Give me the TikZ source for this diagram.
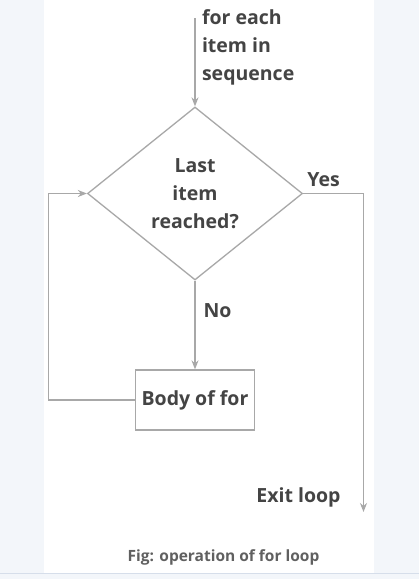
\documentclass[tikz,border=0pt]{standalone}
\usepackage{fontspec}
\setmainfont{Open Sans}
\usetikzlibrary{arrows,arrows.meta}
\usetikzlibrary{positioning}
\usetikzlibrary{shapes.geometric}
\definecolor{linegray}{HTML}{A8A8A8}
\definecolor{textgray}{HTML}{444444}
\definecolor{pagebg}{HTML}{F3F6FA}
\definecolor{stripline}{HTML}{D6DEEA}

\begin{document}
\begin{tikzpicture}[->,>={Stealth[length=9pt,width=7pt]},x=1pt,y=-1pt,
			text=textgray,font=\fontsize{19.5}{28}\selectfont\bfseries]
			\tikzstyle{flow}=[draw=linegray,line width=1.3pt]
			\tikzstyle{decision}=[diamond,flow,minimum width=215pt,minimum height=173pt,
			inner sep=0pt,aspect=1.25,align=center]
			\tikzstyle{block}=[rectangle,flow,minimum width=119pt,minimum height=60pt,inner sep=1pt]
			
			% page and panel
			\fill[pagebg,-] (0,0) rectangle (418,579);
			\fill[white,-] (43,0) rectangle (373,573);
			\draw[stripline,-,line width=1pt] (0,573.5) -- (418,573.5);
			
			\node[decision]      (D_last)  at (194.5,193.5) {Last\\item\\reached?};
			\node[block]         (B_body)  at (194.5,400)   {Body of for};
			
			\coordinate          (C_in)    at (194.5,18);
			\coordinate          (C_yes)   at (363,193.5);
			\coordinate          (C_exit)  at (363,512);
			\coordinate          (C_back)  at (48,400);
			\coordinate          (C_up)    at (48,193.5);
			
			\node[anchor=north west,align=left] (L_seq) at (198,6) {for each\\item in\\sequence};
			\node (L_yes)  at (323,180) {Yes};
			\node (L_no)   at (217,311) {No};
			\node (L_exit) at (298,497) {Exit loop};
			\node[font=\fontsize{15.5}{18}\selectfont\bfseries,text=textgray!85] (L_fig) at (223,557)
			{Fig: operation of for loop};
			
			\draw[flow] (C_in) -- (D_last.north);
			\draw[flow] (D_last.south) -- (B_body.north);
			\draw[flow] (D_last.east) -- (C_yes) -- (C_exit);
			\draw[flow] (B_body.west) -- (C_back) -- (C_up) -- (D_last.west);
			
\end{tikzpicture}
\end{document}
